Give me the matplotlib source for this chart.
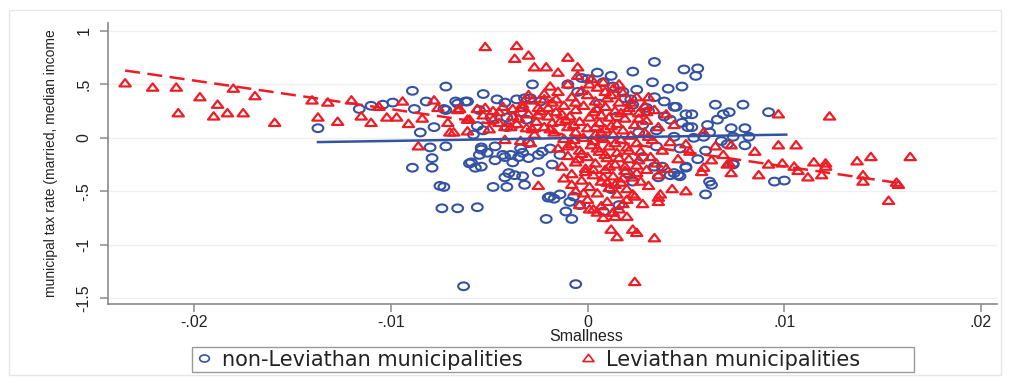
import matplotlib.pyplot as plt
from matplotlib.ticker import FuncFormatter
from matplotlib.lines import Line2D
from matplotlib.patches import Rectangle
from matplotlib.path import Path
from matplotlib.transforms import Affine2D

# municipalities without Leviathan behaviour: (smallness, tax rate)
nonlev_pts = [
	(-0.0137, 0.09), (-0.0116, 0.27), (-0.0110, 0.30), (-0.0104, 0.31), (-0.0099, 0.33),
	(-0.0089, 0.44), (-0.0088, 0.27), (-0.0085, 0.05), (-0.0082, 0.34), (-0.0080, -0.09),
	(-0.0079, -0.19), (-0.0078, 0.10), (-0.0073, 0.27), (-0.0072, -0.08), (-0.0072, 0.48),
	(-0.0067, 0.34), (-0.0062, 0.34), (-0.0056, 0.11), (-0.0054, -0.09), (-0.0059, -0.23),
	(-0.0055, -0.16), (-0.0053, 0.41), (-0.0046, 0.36), (-0.0042, 0.33), (-0.0036, 0.36),
	(-0.0032, 0.37), (-0.0028, 0.50), (-0.0089, -0.28), (-0.0079, -0.28), (-0.0075, -0.45),
	(-0.0074, -0.66), (-0.0066, -0.66), (-0.0056, -0.65), (-0.0063, -1.39), (-0.0060, -0.24),
	(-0.0057, -0.28), (-0.0054, -0.27), (-0.0047, -0.21), (-0.0043, -0.16), (-0.0048, -0.46),
	(-0.0041, -0.46), (-0.0042, -0.37), (-0.0040, -0.33), (-0.0037, -0.35), (-0.0033, -0.36),
	(-0.0032, -0.44), (-0.0025, -0.32), (-0.0021, -0.76), (-0.0020, -0.56), (-0.0035, -0.18),
	(-0.0033, -0.14), (-0.0038, -0.23), (-0.0006, -1.37), (-0.0008, -0.76), (-0.0011, -0.69),
	(-0.0017, -0.57), (-0.0019, -0.55), (-0.0014, -0.53), (-0.0009, -0.60), (-0.0004, -0.63),
	(-0.0073, -0.46), (-0.0051, -0.14), (-0.0047, -0.08), (-0.0042, -0.18), (-0.0030, -0.19),
	(-0.0023, -0.13), (-0.0018, -0.25), (-0.0055, 0.26), (-0.0049, 0.19), (-0.0041, 0.19),
	(-0.0034, 0.24), (-0.0031, 0.17), (-0.0041, 0.10), (-0.0053, 0.07), (-0.0058, 0.03),
	(-0.0066, 0.32), (-0.0061, 0.34), (-0.0072, 0.26), (-0.0054, -0.11), (-0.0039, -0.16),
	(-0.0034, -0.10), (-0.0025, -0.16), (-0.0030, -0.05), (-0.0019, -0.10), (-0.0014, -0.16),
	(-0.0024, 0.34), (-0.0029, 0.37), (-0.0010, 0.50), (-0.0003, 0.56), (0.0000, 0.55),
	(-0.0005, 0.43),
	(0.0034, 0.71), (0.0049, 0.64), (0.0056, 0.65), (0.0055, 0.58), (0.0023, 0.62),
	(0.0005, 0.61), (0.0012, 0.58), (0.0033, 0.52), (0.0041, 0.46), (0.0048, 0.48),
	(0.0034, 0.38), (0.0065, 0.31), (0.0079, 0.31), (0.0072, 0.24), (0.0069, 0.22),
	(0.0092, 0.24), (0.0045, 0.29), (0.0050, 0.22), (0.0061, 0.12), (0.0073, 0.09),
	(0.0080, 0.09), (0.0082, 0.01), (0.0074, 0.01), (0.0080, -0.07), (0.0071, -0.06),
	(0.0074, -0.24), (0.0059, 0.01), (0.0053, 0.10), (0.0048, 0.14), (0.0039, 0.20),
	(0.0030, 0.28), (0.0022, 0.36), (0.0018, 0.43), (0.0013, 0.48), (0.0019, 0.37),
	(0.0023, 0.31), (0.0031, 0.25), (0.0044, 0.29), (0.0053, 0.22), (0.0051, 0.10),
	(0.0042, 0.17), (0.0035, 0.07), (0.0044, 0.01), (0.0054, 0.00), (0.0047, -0.10),
	(0.0035, -0.08), (0.0095, -0.41), (0.0100, -0.40), (0.0060, -0.53), (0.0063, -0.44),
	(0.0062, -0.41), (0.0050, -0.27), (0.0046, -0.35), (0.0042, -0.35), (0.0074, -0.25),
	(0.0016, -0.63), (0.0008, -0.69), (0.0038, -0.27), (0.0036, -0.37), (0.0020, -0.33),
	(0.0028, -0.18), (0.0034, -0.27), (0.0044, -0.33), (0.0050, -0.28), (0.0047, -0.36),
	(0.0023, -0.41), (0.0012, -0.48), (-0.0007, -0.55), (0.0028, 0.12), (0.0015, 0.20),
	(0.0006, 0.32), (0.0026, 0.05), (0.0066, 0.17), (0.0060, -0.12), (0.0056, -0.20),
	(0.0039, 0.34), (0.0025, 0.45), (0.0008, 0.52), (0.0062, 0.05), (0.0068, -0.03),
]

# Leviathan municipalities
lev_pts = [
	# small municipalities on the left
	(-0.0235, 0.51), (-0.0221, 0.47), (-0.0209, 0.47), (-0.0197, 0.38), (-0.0180, 0.46),
	(-0.0188, 0.31), (-0.0208, 0.23), (-0.0190, 0.20), (-0.0183, 0.23), (-0.0175, 0.23),
	(-0.0169, 0.39), (-0.0159, 0.14), (-0.0140, 0.35), (-0.0137, 0.19), (-0.0132, 0.33),
	(-0.0127, 0.15), (-0.0120, 0.35), (-0.0115, 0.20), (-0.0110, 0.14), (-0.0106, 0.29),
	(-0.0102, 0.19), (-0.0097, 0.19), (-0.0094, 0.34), (-0.0091, 0.13), (-0.0086, -0.08),
	(-0.0084, 0.18), (-0.0078, 0.35), (-0.0071, 0.14), (-0.0070, 0.05), (-0.0065, 0.27),
	(-0.0061, 0.06), (-0.0056, 0.27),
	# high outliers
	(-0.0052, 0.85), (-0.0036, 0.86), (-0.0037, 0.74), (-0.0030, 0.77), (-0.0027, 0.66),
	(-0.0021, 0.66), (-0.0015, 0.61), (-0.0010, 0.75), (-0.0005, 0.66),
	(-0.0076, 0.28), (-0.0066, 0.26), (-0.0061, 0.17), (-0.0052, 0.28), (-0.0048, 0.17),
	(-0.0042, 0.10), (-0.0038, 0.20), (-0.0033, 0.28), (-0.0029, -0.05), (-0.0022, 0.36),
	(-0.0068, 0.05), (-0.0042, -0.02), (-0.0045, 0.24), (-0.0036, 0.13), (-0.0025, 0.21),
	(-0.0020, 0.28), (-0.0018, 0.14), (-0.0028, 0.08), (-0.0025, -0.45),
	# dense core around zero
	(-0.0005, 0.58), (0.0002, 0.55), (0.0008, 0.52), (-0.0010, 0.50), (0.0005, 0.47),
	(0.0013, 0.46), (-0.0003, 0.44), (-0.0015, 0.43), (0.0018, 0.42), (0.0000, 0.40),
	(-0.0022, 0.41), (0.0025, 0.38), (-0.0008, 0.38), (0.0010, 0.37), (-0.0028, 0.35),
	(0.0004, 0.34), (-0.0018, 0.33), (0.0016, 0.33), (0.0029, 0.30), (-0.0033, 0.31),
	(-0.0002, 0.30), (-0.0012, 0.30), (0.0009, 0.29), (0.0021, 0.28), (-0.0025, 0.28),
	(0.0034, 0.26), (-0.0038, 0.27), (-0.0043, 0.29), (-0.0006, 0.26), (0.0014, 0.25),
	(0.0003, 0.24), (-0.0016, 0.24), (-0.0048, 0.25), (0.0026, 0.23), (-0.0030, 0.22),
	(0.0040, 0.22), (-0.0020, 0.20), (-0.0009, 0.20), (0.0001, 0.19), (0.0011, 0.19),
	(0.0019, 0.18), (-0.0053, 0.21), (-0.0035, 0.18), (-0.0026, 0.15), (0.0030, 0.16),
	(-0.0014, 0.15), (-0.0004, 0.15), (0.0006, 0.14), (0.0015, 0.13), (0.0024, 0.12),
	(-0.0045, 0.14), (-0.0060, 0.17), (-0.0039, 0.10), (-0.0031, 0.09), (-0.0022, 0.10),
	(-0.0010, 0.10), (0.0000, 0.09), (0.0009, 0.08), (0.0018, 0.07), (0.0036, 0.10),
	(0.0044, 0.12), (-0.0050, 0.08), (-0.0017, 0.05), (-0.0006, 0.05), (0.0004, 0.03),
	(0.0013, 0.03), (0.0022, 0.02), (0.0029, 0.05), (-0.0027, 0.03), (-0.0002, 0.00),
	(0.0008, -0.01), (0.0017, -0.02), (-0.0012, -0.01), (0.0033, -0.02), (0.0042, -0.04),
	(0.0050, -0.06), (-0.0034, -0.03), (0.0025, -0.05), (-0.0008, -0.06), (0.0002, -0.07),
	(0.0011, -0.08), (0.0020, -0.09), (-0.0015, -0.10), (-0.0004, -0.12), (0.0006, -0.13),
	(0.0015, -0.14), (0.0027, -0.13), (0.0038, -0.12), (-0.0010, -0.17), (0.0000, -0.18),
	(0.0010, -0.19), (0.0021, -0.20), (0.0032, -0.18), (0.0046, -0.20), (-0.0006, -0.23),
	(0.0004, -0.24), (0.0014, -0.25), (0.0025, -0.26), (-0.0013, -0.27), (-0.0001, -0.29),
	(0.0009, -0.30), (0.0019, -0.31), (0.0030, -0.30), (-0.0008, -0.34), (0.0003, -0.35),
	(0.0013, -0.36), (0.0023, -0.37), (-0.0003, -0.40), (0.0007, -0.41), (0.0017, -0.42),
	(0.0027, -0.41), (0.0001, -0.46), (0.0011, -0.47), (0.0020, -0.48), (-0.0006, -0.50),
	(0.0005, -0.52), (0.0015, -0.53), (0.0024, -0.55), (0.0000, -0.58), (0.0010, -0.60),
	(0.0018, -0.62), (-0.0004, -0.63), (0.0003, -0.67), (0.0013, -0.70),
	(0.0004, 0.10), (0.0012, 0.11), (-0.0007, 0.12), (0.0007, 0.21), (-0.0013, 0.22),
	(0.0003, -0.03), (0.0014, -0.05), (-0.0003, -0.15), (0.0009, -0.16), (0.0019, -0.27),
	(0.0008, -0.37), (-0.0001, -0.32), (0.0014, -0.44), (0.0005, 0.27), (0.0020, 0.25),
	(-0.0016, 0.36), (-0.0006, 0.33), (0.0012, 0.40), (0.0022, 0.33), (-0.0024, 0.25),
	(0.0017, 0.23), (-0.0011, 0.17), (0.0026, 0.18), (-0.0019, 0.08), (0.0007, 0.05),
	(0.0031, 0.01), (-0.0007, -0.02), (0.0021, -0.12), (-0.0010, -0.08), (0.0005, -0.10),
	(0.0026, -0.21), (0.0016, -0.19), (-0.0005, -0.20), (0.0035, -0.24), (0.0011, -0.27),
	(0.0003, -0.30), (0.0025, -0.33), (-0.0012, -0.38), (0.0018, -0.38), (0.0010, -0.42),
	(0.0031, -0.45), (-0.0002, -0.52), (0.0020, -0.58), (0.0028, -0.62), (0.0007, -0.64),
	(0.0016, -0.67), (-0.0008, -0.44), (0.0036, -0.35), (0.0040, -0.29), (0.0031, 0.38),
	(-0.0030, 0.40), (0.0001, 0.50), (0.0016, 0.50), (-0.0019, 0.48), (0.0009, 0.43),
	# right side
	(0.0097, 0.22), (0.0123, 0.20), (0.0097, -0.07), (0.0106, -0.07), (0.0085, -0.13),
	(0.0092, -0.25), (0.0099, -0.24), (0.0105, -0.27), (0.0107, -0.31), (0.0115, -0.23),
	(0.0121, -0.24), (0.0121, -0.27), (0.0119, -0.35), (0.0112, -0.37), (0.0087, -0.35),
	(0.0137, -0.22), (0.0144, -0.18), (0.0164, -0.18), (0.0140, -0.35), (0.0140, -0.41),
	(0.0157, -0.42), (0.0158, -0.44), (0.0153, -0.59), (0.0073, -0.33), (0.0072, -0.24),
	(0.0058, -0.32), (0.0059, -0.28), (0.0043, -0.48), (0.0050, -0.50), (0.0037, -0.53),
	(0.0036, -0.60), (0.0036, -0.56), (0.0023, -0.53), (0.0020, -0.74), (0.0014, -0.74),
	(0.0008, -0.75), (0.0013, -0.70), (0.0012, -0.86), (0.0015, -0.93), (0.0023, -0.86),
	(0.0025, -0.89), (0.0034, -0.94), (0.0024, -1.35), (0.0005, -0.70), (0.0001, -0.67),
	(0.0059, 0.05), (0.0065, -0.08), (0.0069, -0.16), (0.0073, -0.07), (0.0052, -0.13),
	(0.0063, -0.21), (0.0071, -0.25), (0.0030, 0.24),
]

# linear fits (end points of each fitted line)
nonlev_fit_x = [-0.0137, 0.0101]
nonlev_fit_y = [-0.04, 0.03]
lev_fit_x = [-0.0235, 0.0157]
lev_fit_y = [0.63, -0.42]

xticks = [-0.02, -0.01, 0, 0.01, 0.02]
yticks = [-1.5, -1, -0.5, 0, 0.5, 1]

BLUE = "#3452a2"
RED = "#ee1c25"
AXIS = "#8a8a8a"
TXT = "#222222"

# markers are a bit wider than tall
oval = Path.unit_circle().transformed(Affine2D().scale(1.0, 0.72))
tri = Path([(-1.0, -0.55), (1.0, -0.55), (0.0, 0.75), (-1.0, -0.55)],
	[Path.MOVETO, Path.LINETO, Path.LINETO, Path.CLOSEPOLY])

def stata_fmt(v, pos=None):
	s = "%g" % round(v, 6)
	if s.startswith("0."):
		s = s[1:]
	elif s.startswith("-0."):
		s = "-" + s[2:]
	return s

plt.rcParams["font.family"] = ["Liberation Sans", "DejaVu Sans"]

fig = plt.figure(figsize=(10.1, 3.83), dpi=100)
fig.patches.append(Rectangle((9 / 1010, 8 / 383), 992 / 1010, 365 / 383,
	transform=fig.transFigure, fill=False, edgecolor="#e6e6e6", linewidth=1))

ax = fig.add_axes([108 / 1010, 79 / 383, 889 / 1010, 281 / 383])

nx, ny = zip(*nonlev_pts)
lx, ly = zip(*lev_pts)
ax.scatter(nx, ny, s=60, marker=oval, facecolors="none", edgecolors=BLUE, linewidths=1.5, zorder=3)
ax.scatter(lx, ly, s=66, marker=tri, facecolors="none", edgecolors=RED, linewidths=1.6, zorder=4)
ax.plot(nonlev_fit_x, nonlev_fit_y, color=BLUE, linewidth=1.8, zorder=5)
ax.plot(lev_fit_x, lev_fit_y, color=RED, linewidth=1.8, dashes=(6, 3), zorder=5)

ax.set_xlim(-0.02437, 0.02081)
ax.set_ylim(-1.556, 1.075)
ax.set_xticks(xticks)
ax.set_yticks(yticks)
ax.xaxis.set_major_formatter(FuncFormatter(stata_fmt))
ax.yaxis.set_major_formatter(FuncFormatter(stata_fmt))
ax.grid(axis="y", color="#efefef", linewidth=1)
ax.set_axisbelow(True)
for side in ["top", "right"]:
	ax.spines[side].set_visible(False)
for side in ["left", "bottom"]:
	ax.spines[side].set_color(AXIS)
	ax.spines[side].set_linewidth(1.2)
ax.tick_params(colors=AXIS, length=6, width=1.1, labelcolor=TXT)
ax.tick_params(axis="x", labelsize=11.5, pad=2)
ax.tick_params(axis="y", labelsize=11.5, pad=6)
for lbl in ax.get_yticklabels():
	lbl.set_rotation(90)
	lbl.set_va("center")

ax.set_ylabel("municipal tax rate (married, median income", fontsize=10, color=TXT)
ax.yaxis.set_label_coords((58 - 108) / 889, 0.5)
ax.set_xlabel("Smallness", fontsize=11.5, color=TXT)
ax.xaxis.set_label_coords((586 - 108) / 889, -0.09)

# legend: one box below the plot, two entries placed inside it
fig.patches.append(Rectangle((192 / 1010, 11 / 383), 722 / 1010, 25 / 383,
	transform=fig.transFigure, facecolor="white", edgecolor="#999999", linewidth=1))
entries = [
	(Line2D([], [], linestyle="none", marker=oval, markersize=7, markerfacecolor="none",
		markeredgecolor=BLUE, markeredgewidth=1.2, label="non-Leviathan municipalities"), 195),
	(Line2D([], [], linestyle="none", marker=tri, markersize=8, markerfacecolor="none",
		markeredgecolor=RED, markeredgewidth=1.2, label="Leviathan municipalities"), 579),
]
for handle, x0 in entries:
	leg = fig.legend(handles=[handle], loc="center left", bbox_to_anchor=(x0 / 1010, 23.5 / 383),
		prop={"family": "DejaVu Sans", "size": 15}, frameon=False, borderpad=0,
		handletextpad=0.4, handlelength=0.9, borderaxespad=0)
	for t in leg.get_texts():
		t.set_color(TXT)

fig.savefig("out.png", dpi=100)
